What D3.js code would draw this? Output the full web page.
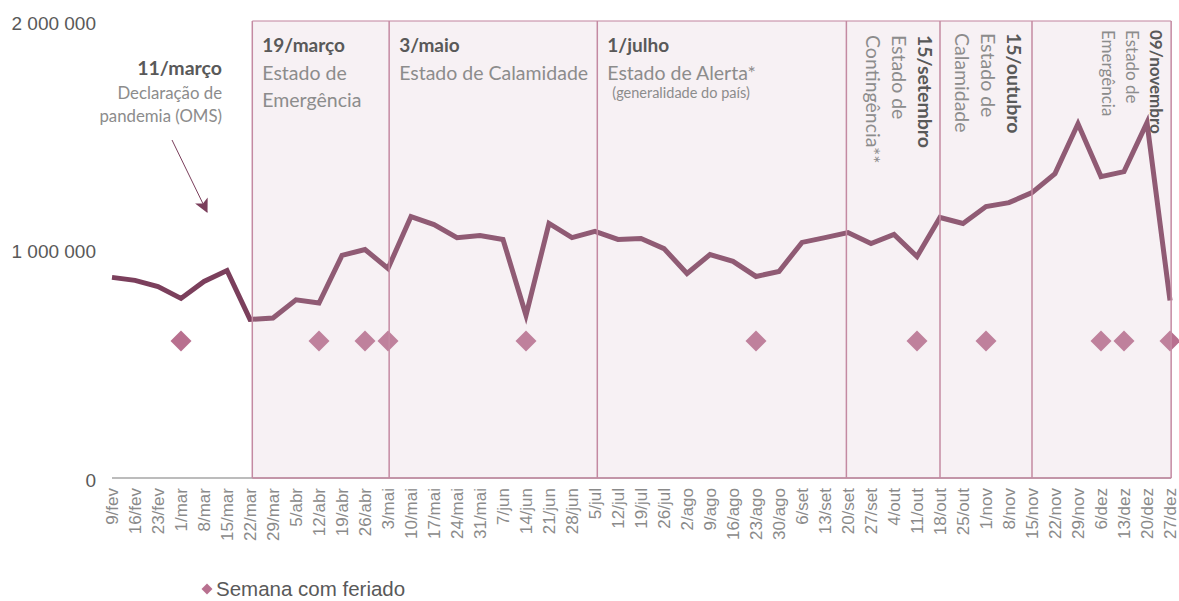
<!DOCTYPE html>
<html>
<head>
<meta charset="utf-8">
<script src="https://cdn.jsdelivr.net/npm/d3@7/dist/d3.min.js"></script>
<style>
  body { margin: 0; background: #fff; }
  svg { display: block; }
</style>
</head>
<body>
<div id="chart"></div>
<script>
/* --- データ --- */
const weeks = ["9/fev","16/fev","23/fev","1/mar","8/mar","15/mar","22/mar","29/mar","5/abr","12/abr",
  "19/abr","26/abr","3/mai","10/mai","17/mai","24/mai","31/mai","7/jun","14/jun","21/jun","28/jun",
  "5/jul","12/jul","19/jul","26/jul","2/ago","9/ago","16/ago","23/ago","30/ago","6/set","13/set",
  "20/set","27/set","4/out","11/out","18/out","25/out","1/nov","8/nov","15/nov","22/nov","29/nov",
  "6/dez","13/dez","20/dez","27/dez"];

const values = [878000, 865000, 838000, 786000, 860000, 908000, 694000, 700000, 780000, 766000,
  974000, 1000000, 917000, 1144000, 1109000, 1052000, 1061000, 1044000, 712000, 1114000, 1052000,
  1079000, 1044000, 1048000, 1004000, 895000, 978000, 948000, 882000, 904000, 1031000, 1052000,
  1074000, 1026000, 1066000, 969000, 1140000, 1114000, 1188000, 1205000, 1249000, 1332000, 1550000,
  1319000, 1341000, 1555000, 777000];

const holidayWeeks = ["1/mar","12/abr","26/abr","3/mai","14/jun","23/ago","11/out","1/nov","6/dez","13/dez","27/dez"];
const holidayLevel = 600000;

const yTicks = [0, 1000000, 2000000];

// 期間の境界（週インデックス、図から読み取り）
const periodStarts = [6.1, 12.05, 21.1, 31.93, 36.0, 40.0];
const periodEnd = 46.05;
const periodTitles = ["19/março", "3/maio", "1/julho", "15/setembro", "15/outubro", "09/novembro"];
const periodLines = [
  ["Estado de", "Emergência"],
  ["Estado de Calamidade"],
  ["Estado de Alerta*"],
  ["Estado de", "Contingência**"],
  ["Estado de", "Calamidade"],
  ["Estado de", "Emergência"]
];

/* --- ビューポート --- */
const width = 1179, height = 601;
const margin = {top: 21, right: 9, bottom: 123, left: 112};

const svg = d3.select("#chart").append("svg")
  .attr("width", width)
  .attr("height", height);

const x = d3.scaleLinear().domain([0, weeks.length - 1]).range([112, 1170]);
const y = d3.scaleLinear().domain([0, 2000000]).range([height - margin.bottom, margin.top]);

const fmt = d3.formatLocale({decimal: ",", thousands: " ", grouping: [3], currency: ["", ""]}).format(",");

const cLine = "#7b3f5c", cDiamond = "#b8708f", cBorder = "#c48aa2";
const titleFont = "Lato, 'Open Sans', sans-serif";
const axisFont = "'Liberation Sans', Arial, sans-serif";

/* --- Y軸ラベル --- */
svg.append("g").selectAll("text")
  .data(yTicks).enter().append("text")
  .attr("x", 96)
  .attr("y", d => y(d) + 2)
  .attr("dy", "0.36em")
  .attr("text-anchor", "end")
  .style("font-family", axisFont)
  .style("font-size", "19px")
  .style("fill", "#595959")
  .text(d => fmt(d));

/* --- X軸 --- */
const xAxis = d3.axisBottom(x)
  .tickValues(d3.range(weeks.length))
  .tickFormat(i => weeks[i])
  .tickSize(0)
  .tickSizeOuter(0);

const gx = svg.append("g")
  .attr("transform", "translate(0," + y(0) + ")")
  .call(xAxis);
gx.select(".domain").remove();
gx.selectAll("text")
  .attr("transform", "rotate(-90)")
  .attr("x", -10)
  .attr("y", 0)
  .attr("dy", "0.35em")
  .attr("text-anchor", "end")
  .style("font-family", axisFont)
  .style("font-size", "17px")
  .style("fill", "#8a8a8a");

svg.append("line")
  .attr("x1", 112).attr("x2", x(periodEnd))
  .attr("y1", y(0)).attr("y2", y(0))
  .attr("stroke", "#a6a6a6")
  .attr("stroke-width", 1.5);

/* --- 折れ線 --- */
const line = d3.line()
  .x((d, i) => x(i))
  .y(d => y(d))
  .curve(d3.curveLinear);

svg.append("path")
  .datum(values)
  .attr("d", line)
  .attr("fill", "none")
  .attr("stroke", cLine)
  .attr("stroke-width", 5)
  .attr("stroke-linejoin", "miter");

/* --- 祝日マーカー --- */
const diamond = d3.symbol().type(d3.symbolSquare).size(220);
svg.append("g").selectAll("path")
  .data(holidayWeeks).enter().append("path")
  .attr("d", diamond)
  .attr("transform", d => "translate(" + x(weeks.indexOf(d)) + "," + y(holidayLevel) + ") rotate(45)")
  .attr("fill", cDiamond);

/* --- 期間ボックス（上に半透明で重ねる） --- */
const boxes = periodStarts.map((s, i) => ({
  start: s,
  end: i < periodStarts.length - 1 ? periodStarts[i + 1] : periodEnd,
  title: periodTitles[i],
  lines: periodLines[i]
}));

const gBox = svg.append("g");
gBox.selectAll("rect")
  .data(boxes).enter().append("rect")
  .attr("x", d => x(d.start))
  .attr("y", y(2000000))
  .attr("width", d => x(d.end) - x(d.start))
  .attr("height", y(0) - y(2000000))
  .attr("fill", "rgb(220,190,205)")
  .attr("fill-opacity", 0.22);

// 縦線
gBox.selectAll("line.v")
  .data(periodStarts.concat([periodEnd])).enter().append("line")
  .attr("class", "v")
  .attr("x1", d => x(d)).attr("x2", d => x(d))
  .attr("y1", y(2000000)).attr("y2", y(0))
  .attr("stroke", cBorder)
  .attr("stroke-width", 1.5);

gBox.append("line")
  .attr("x1", x(periodStarts[0])).attr("x2", x(periodEnd))
  .attr("y1", y(2000000)).attr("y2", y(2000000))
  .attr("stroke", cBorder)
  .attr("stroke-opacity", 0.7)
  .attr("stroke-width", 1.5);

gBox.append("line")
  .attr("x1", x(periodStarts[0])).attr("x2", x(periodEnd))
  .attr("y1", y(0)).attr("y2", y(0))
  .attr("stroke", cBorder)
  .attr("stroke-width", 1.5);

/* --- 期間ラベル（横書き） --- */
const gText = svg.append("g");
boxes.slice(0, 3).forEach(function(d, i) {
  const x0 = x(d.start) + 10;
  gText.append("text")
    .attr("x", x0).attr("y", 52)
    .style("font-family", titleFont).style("font-size", "19px").style("font-weight", 700)
    .style("fill", "#595959")
    .text(d.title);
  d.lines.forEach(function(t, j) {
    gText.append("text")
      .attr("x", x0).attr("y", 80 + j * 27)
      .style("font-family", titleFont).style("font-size", "19.5px")
      .style("fill", "#8c8c8c")
      .text(t);
  });
});

gText.append("text")
  .attr("x", x(periodStarts[2]) + 15).attr("y", 98)
  .style("font-family", titleFont).style("font-size", "14.5px")
  .style("fill", "#8c8c8c")
  .text("(generalidade do país)");

/* --- 期間ラベル（縦書き） --- */
const vertical = [
  {base: 918, top: 35, size: 19.5, sub: 19.5, gap: 26},
  {base: 1007, top: 33, size: 19.5, sub: 19.5, gap: 26},
  {base: 1150, top: 30, size: 17, sub: 17, gap: 24}
];
boxes.slice(3).forEach(function(d, i) {
  const v = vertical[i];
  gText.append("text")
    .attr("transform", "translate(" + v.base + "," + v.top + ") rotate(90)")
    .style("font-family", titleFont).style("font-size", v.size + "px").style("font-weight", 700)
    .style("fill", "#595959")
    .text(d.title);
  d.lines.forEach(function(t, j) {
    gText.append("text")
      .attr("transform", "translate(" + (v.base - v.gap * (j + 1)) + "," + v.top + ") rotate(90)")
      .style("font-family", titleFont).style("font-size", v.sub + "px")
      .style("fill", "#8c8c8c")
      .text(t);
  });
});

/* --- 11/março 注記 --- */
const gNote = svg.append("g");
gNote.append("text")
  .attr("x", 222).attr("y", 75)
  .attr("text-anchor", "end")
  .style("font-family", titleFont).style("font-size", "19.5px").style("font-weight", 700)
  .style("fill", "#595959")
  .text("11/março");
["Declaração de", "pandemia (OMS)"].forEach(function(t, j) {
  gNote.append("text")
    .attr("x", 222).attr("y", 99 + j * 23)
    .attr("text-anchor", "end")
    .style("font-family", titleFont).style("font-size", "16.8px")
    .style("fill", "#8c8c8c")
    .text(t);
});

svg.append("defs").append("marker")
  .attr("id", "arrow")
  .attr("viewBox", "0 0 12 12")
  .attr("refX", 11).attr("refY", 6)
  .attr("markerWidth", 14).attr("markerHeight", 14)
  .attr("markerUnits", "userSpaceOnUse")
  .attr("orient", "auto")
  .append("path")
  .attr("d", "M0,0 L12,6 L0,12 L3,6 Z")
  .attr("fill", cLine);

gNote.append("line")
  .attr("x1", 172).attr("y1", 140)
  .attr("x2", 207).attr("y2", 212)
  .attr("stroke", cLine)
  .attr("stroke-width", 1)
  .attr("marker-end", "url(#arrow)");

/* --- 凡例 --- */
const gLegend = svg.append("g").attr("transform", "translate(207,589)");
gLegend.append("path")
  .attr("d", d3.symbol().type(d3.symbolSquare).size(60))
  .attr("transform", "rotate(45)")
  .attr("fill", cDiamond);
gLegend.append("text")
  .attr("x", 9).attr("y", 0)
  .attr("dy", "0.36em")
  .style("font-family", axisFont).style("font-size", "20.5px")
  .style("fill", "#595959")
  .text("Semana com feriado");
</script>
</body>
</html>
